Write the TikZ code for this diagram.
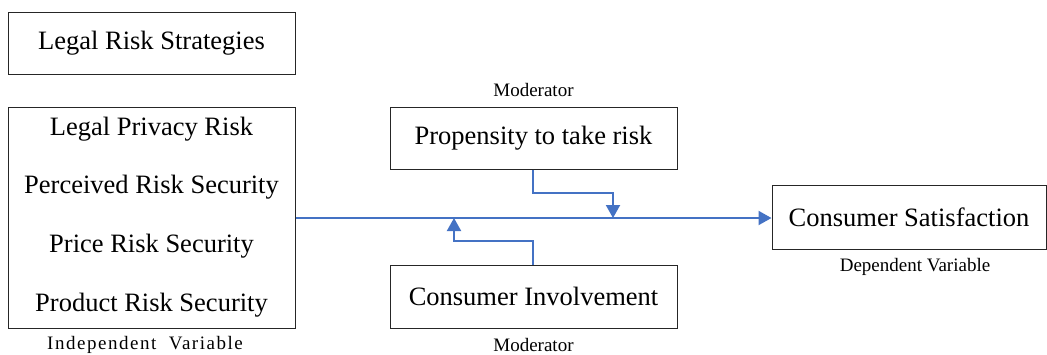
\documentclass[tikz,border=0pt]{standalone}
\usepackage{fontspec}
\setmainfont{Liberation Serif}
\usetikzlibrary{arrows.meta}
\definecolor{lineblue}{HTML}{4472C4}
\tikzset{
  bigtext/.style={font=\fontsize{26.5}{30}\selectfont},
  box/.style={draw=black!85, line width=1pt, inner sep=0pt, bigtext},
  lbl/.style={inner sep=0pt, font=\fontsize{19}{22}\selectfont},
  conn/.style={draw=lineblue, line width=2pt, -{Triangle[length=13pt,width=14pt]}},
}
\begin{document}
\begin{tikzpicture}[x=1pt,y=-1pt]
\useasboundingbox (0,0) rectangle (1047,354);
\node[box, minimum width=287pt, minimum height=62pt] (lrs) at (151.5,43) {Legal Risk Strategies};
\node[box, minimum width=287pt, minimum height=221pt] (iv) at (151.5,217.5) {};
\node[bigtext] (t1) at (151.5,129) {Legal Privacy Risk};
\node[bigtext] (t2) at (151.5,187) {Perceived Risk Security};
\node[bigtext] (t3) at (151.5,246) {Price Risk Security};
\node[bigtext] (t4) at (151.5,305) {Product Risk Security};
\node[lbl] (ivl) at (145,345) {\addfontfeature{LetterSpace=8}Independent\ \ Variable};
\node[box, minimum width=287pt, minimum height=62pt] (prop) at (533.5,138) {Propensity to take risk};
\node[lbl] (m1) at (533.5,90) {Moderator};
\node[box, minimum width=287pt, minimum height=63pt] (ci) at (533.5,296.5) {Consumer Involvement};
\node[lbl] (m2) at (533.5,345) {Moderator};
\node[box, minimum width=274pt, minimum height=64pt] (cs) at (909,217) {Consumer Satisfaction};
\node[lbl] (dvl) at (915,267) {Dependent Variable};
\coordinate (p1) at (533,193);
\coordinate (p2) at (613,193);
\coordinate (p3) at (613,218);
\coordinate (c1) at (533,241);
\coordinate (c2) at (454,241);
\coordinate (c3) at (454,218);
\draw[conn] (iv.east |- 0,218) -- (cs.west |- 0,218);
\draw[conn] (prop.south -| p1) -- (p1) -- (p2) -- (p3);
\draw[conn] (ci.north -| c1) -- (c1) -- (c2) -- (c3);
\end{tikzpicture}
\end{document}
